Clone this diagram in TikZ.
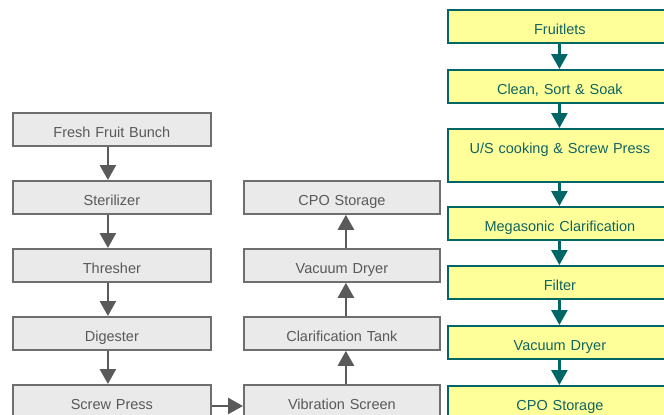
\documentclass[tikz,border=0pt]{standalone}
\usepackage{fontspec}
\setmainfont{Liberation Sans}
\usetikzlibrary{arrows.meta}
\definecolor{gfill}{HTML}{EAEAEA}
\definecolor{gline}{HTML}{6E6E6E}
\definecolor{gtext}{HTML}{595959}
\definecolor{garrow}{HTML}{5A5A5A}
\definecolor{yfill}{HTML}{FFFF99}
\definecolor{tline}{HTML}{006666}
\definecolor{ttext}{HTML}{0F6464}
\tikzset{
  gbox/.style={draw=gline, fill=gfill, line width=1.8pt, text=gtext, anchor=north west,
    inner xsep=0pt, inner ysep=0pt, text height=25pt, text depth=8pt,
    font=\fontsize{14.5}{16}\selectfont},
  lbox/.style={gbox, minimum width=198pt, text width=198pt, align=center},
  mbox/.style={gbox, minimum width=196pt, text width=196pt, align=center},
  ybox/.style={draw=tline, fill=yfill, line width=1.8pt, text=ttext, anchor=north west,
    inner xsep=0pt, inner ysep=0pt, text height=25pt, text depth=8pt,
    minimum width=224pt, text width=224pt, align=center,
    font=\fontsize{14.5}{16}\selectfont},
  garr/.style={draw=garrow, line width=2.6pt, -{Triangle[length=15pt,width=16pt]}},
  tarr/.style={draw=tline, line width=2.6pt, -{Triangle[length=15pt,width=16pt]}}
}
\begin{document}
\begin{tikzpicture}[x=1pt,y=-1pt]
\useasboundingbox (0,0) rectangle (664,415);
\clip (0,0) rectangle (664,415);
% left column
\node[lbox] (ffb) at (12,112) {Fresh Fruit Bunch};
\node[lbox] (ster) at (12,180) {Sterilizer};
\node[lbox] (thr) at (12,248) {Thresher};
\node[lbox] (dig) at (12,316) {Digester};
\node[lbox] (sp) at (12,384) {Screw Press};
% middle column
\node[mbox] (cpo1) at (243,180) {CPO Storage};
\node[mbox] (vd1) at (243,248) {Vacuum Dryer};
\node[mbox] (ct) at (243,316) {Clarification Tank};
\node[mbox] (vs) at (243,384) {Vibration Screen};
% right column
\node[ybox] (fl) at (447,9) {Fruitlets};
\node[ybox] (css) at (447,69) {Clean, Sort \& Soak};
\node[ybox, text depth=28pt] (us) at (447,128) {U/S cooking \& Screw Press};
\node[ybox] (mc) at (447,206) {Megasonic Clarification};
\node[ybox] (fi) at (447,265) {Filter};
\node[ybox] (vd2) at (447,325) {Vacuum Dryer};
\node[ybox] (cpo2) at (447,385) {CPO Storage};
% left arrows
\draw[garr] ([xshift=-4pt]ffb.south) -- ([xshift=-4pt]ster.north);
\draw[garr] ([xshift=-4pt]ster.south) -- ([xshift=-4pt]thr.north);
\draw[garr] ([xshift=-4pt]thr.south) -- ([xshift=-4pt]dig.north);
\draw[garr] ([xshift=-4pt]dig.south) -- ([xshift=-4pt]sp.north);
\draw[garr] ([yshift=-22pt]sp.north east) -- ([yshift=-22pt]vs.north west);
% middle arrows
\draw[garr] ([xshift=4pt]vs.north) -- ([xshift=4pt]ct.south);
\draw[garr] ([xshift=4pt]ct.north) -- ([xshift=4pt]vd1.south);
\draw[garr] ([xshift=4pt]vd1.north) -- ([xshift=4pt]cpo1.south);
% right arrows
\draw[tarr] ([xshift=-0.5pt]fl.south) -- ([xshift=-0.5pt]css.north);
\draw[tarr] ([xshift=-0.5pt]css.south) -- ([xshift=-0.5pt]us.north);
\draw[tarr] ([xshift=-0.5pt]us.south) -- ([xshift=-0.5pt]mc.north);
\draw[tarr] ([xshift=-0.5pt]mc.south) -- ([xshift=-0.5pt]fi.north);
\draw[tarr] ([xshift=-0.5pt]fi.south) -- ([xshift=-0.5pt]vd2.north);
\draw[tarr] ([xshift=-0.5pt]vd2.south) -- ([xshift=-0.5pt]cpo2.north);
\end{tikzpicture}
\end{document}
